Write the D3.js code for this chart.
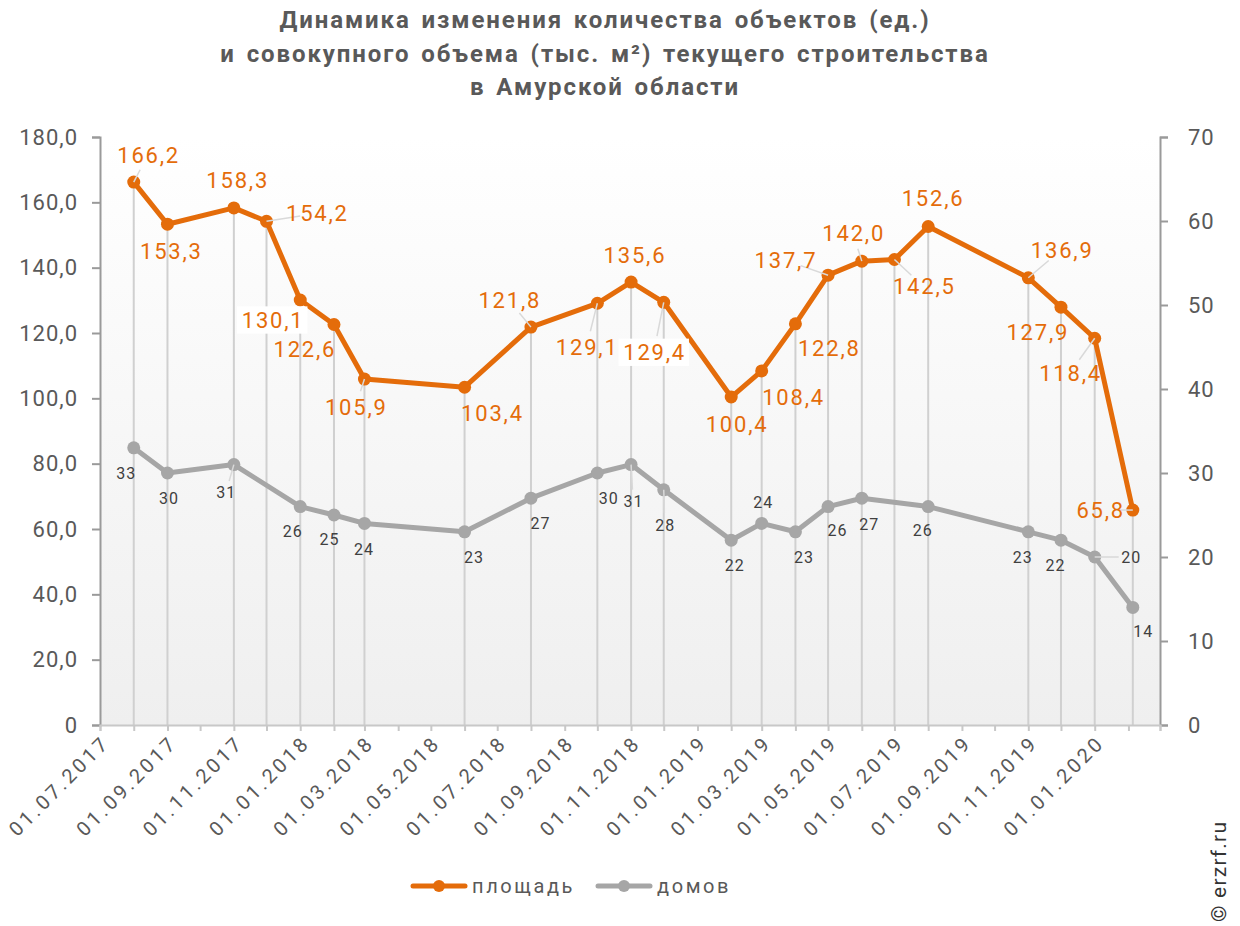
<!DOCTYPE html>
<html>
<head>
<meta charset="utf-8">
<script src="https://cdnjs.cloudflare.com/ajax/libs/d3/7.8.5/d3.min.js"></script>
<style>
  body { margin: 0; background: #fff; }
  svg { font-family: Roboto, "Noto Sans", sans-serif; }
</style>
</head>
<body>
<script>
// Chart data
const titleLines = [
    "Динамика изменения количества объектов (ед.)",
    "и совокупного объема (тыс. м²) текущего строительства",
    "в Амурской области"
];
const areaDates = ["01.08.2017", "01.09.2017", "01.11.2017", "01.12.2017", "01.01.2018", "01.02.2018",
    "01.03.2018", "01.06.2018", "01.08.2018", "01.10.2018", "01.11.2018", "01.12.2018", "01.02.2019",
    "01.03.2019", "01.04.2019", "01.05.2019", "01.06.2019", "01.07.2019", "01.08.2019", "01.11.2019",
    "01.12.2019", "01.01.2020", "05.02.2020"];
const areaValues = [166.2, 153.3, 158.3, 154.2, 130.1, 122.6, 105.9, 103.4, 121.8, 129.1, 135.6, 129.4,
    100.4, 108.4, 122.8, 137.7, 142.0, 142.5, 152.6, 136.9, 127.9, 118.4, 65.8];
const houseDates = ["01.08.2017", "01.09.2017", "01.11.2017", "01.01.2018", "01.02.2018", "01.03.2018",
    "01.06.2018", "01.08.2018", "01.10.2018", "01.11.2018", "01.12.2018", "01.02.2019", "01.03.2019",
    "01.04.2019", "01.05.2019", "01.06.2019", "01.08.2019", "01.11.2019", "01.12.2019", "01.01.2020",
    "05.02.2020"];
const houseValues = [33, 30, 31, 26, 25, 24, 23, 27, 30, 31, 28, 22, 24, 23, 26, 27, 26, 23, 22, 20, 14];
const leftTicks = [0, 20, 40, 60, 80, 100, 120, 140, 160, 180];
const rightTicks = [0, 10, 20, 30, 40, 50, 60, 70];
const xTickLabels = ["01.07.2017", "01.09.2017", "01.11.2017", "01.01.2018", "01.03.2018", "01.05.2018",
    "01.07.2018", "01.09.2018", "01.11.2018", "01.01.2019", "01.03.2019", "01.05.2019", "01.07.2019",
    "01.09.2019", "01.11.2019", "01.01.2020"];
const seriesNames = ["площадь", "домов"];

// label placement (dx, dy from point), leader line flag, white box flag
const areaLabelPos = [[14, -27, 1], [3, 27], [3, -28], [50, -8, 1], [-28, 20, 0, 1], [-30, 25], [-9, 28, 1],
    [27, 26], [-22, -27, 1], [-11, 44, 1], [3, -27], [-10, 50, 1, 1], [5, 27], [31, 26], [33, 24],
    [-43, -15, 1], [-9, -28, 1], [29, 27, 1], [4, -28], [33, -28, 1], [-24, 25], [-25, 35, 1], [-33, 0, 1]];
const houseLabelPos = [[-8, 25], [1, 25], [-8, 28, 1], [-8, 25], [-5, 24], [-1, 26], [9, 25], [9, 25],
    [11, 25], [2, 37, 1], [1, 35, 1], [3, 25], [1, -21], [8, 25], [9, 24], [7, 26], [-6, 24], [-6, 25],
    [-6, 25], [36, 0, 1], [10, 24]];

(function() {
    const W = 1240, H = 926;
    const orange = "#e46c0a", grey = "#a6a6a6", textCol = "#595959";
    const left = 100, right = 1160, top = 137, bottom = 725;
    const parse = d3.timeParse("%d.%m.%Y");

    const svg = d3.select("body").append("svg")
        .attr("width", W).attr("height", H);

    const defs = svg.append("defs");
    const grad = defs.append("linearGradient").attr("id", "bg")
        .attr("x1", 0).attr("y1", 0).attr("x2", 0).attr("y2", 1);
    grad.append("stop").attr("offset", "0%").attr("stop-color", "#ffffff");
    grad.append("stop").attr("offset", "100%").attr("stop-color", "#efefef");

    const x = d3.scaleTime()
        .domain([parse("01.07.2017"), parse("01.03.2020")])
        .range([left, right]);
    const yL = d3.scaleLinear().domain([0, 180]).range([bottom, top]);
    const yR = d3.scaleLinear().domain([0, 70]).range([bottom, top]);

    // plot background
    svg.append("rect")
        .attr("x", left).attr("y", top)
        .attr("width", right - left).attr("height", bottom - top)
        .attr("fill", "url(#bg)");

    // title
    svg.append("g").selectAll("text").data(titleLines).join("text")
        .attr("x", 605).attr("y", (d, i) => 28 + i * 33.5)
        .attr("text-anchor", "middle")
        .attr("font-size", 24).attr("font-weight", "bold")
        .attr("letter-spacing", 1.9).attr("word-spacing", 3)
        .attr("fill", textCol)
        .text(d => d);

    const area = areaDates.map((d, i) => ({ date: parse(d), value: areaValues[i] }));
    const houses = houseDates.map((d, i) => ({ date: parse(d), value: houseValues[i] }));

    // drop lines
    svg.append("g").selectAll("line").data(area).join("line")
        .attr("x1", d => x(d.date)).attr("x2", d => x(d.date))
        .attr("y1", d => yL(d.value)).attr("y2", bottom)
        .attr("stroke", "#d0d0d0").attr("stroke-width", 2);

    // left axis
    const axL = svg.append("g")
        .attr("transform", `translate(${left},0)`)
        .call(d3.axisLeft(yL).tickValues(leftTicks).tickSize(8).tickPadding(14)
            .tickFormat(d => d === 0 ? "0" : d3.format(".1f")(d).replace(".", ",")));
    // right axis
    const axR = svg.append("g")
        .attr("transform", `translate(${right},0)`)
        .call(d3.axisRight(yR).tickValues(rightTicks).tickSize(8).tickPadding(20));
    [axL, axR].forEach(ax => {
        ax.select(".domain").attr("stroke", "#9a9a9a").attr("stroke-width", 2);
        ax.selectAll(".tick line").attr("stroke", "#9a9a9a").attr("stroke-width", 2);
        ax.selectAll(".tick text").attr("font-size", 22).attr("fill", textCol)
            .attr("letter-spacing", 1)
            .attr("font-family", "Roboto, sans-serif");
    });

    // x axis
    const months = d3.timeMonth.range(parse("01.07.2017"), parse("02.03.2020"));
    const axX = svg.append("g")
        .attr("transform", `translate(0,${bottom})`)
        .call(d3.axisBottom(x).tickValues(months).tickSize(6).tickFormat(""));
    axX.select(".domain").attr("stroke", "#c8c8c8").attr("stroke-width", 2);
    axX.selectAll(".tick line").attr("stroke", "#c8c8c8").attr("stroke-width", 2);

    svg.append("g").selectAll("text").data(xTickLabels).join("text")
        .attr("transform", d => `translate(${x(parse(d)) + 6},${bottom + 14}) rotate(-45)`)
        .attr("text-anchor", "end")
        .attr("dy", "0.35em")
        .attr("font-size", 20).attr("letter-spacing", 3.2).attr("fill", textCol)
        .text(d => d);

    // lines
    const lineL = d3.line().x(d => x(d.date)).y(d => yL(d.value));
    const lineR = d3.line().x(d => x(d.date)).y(d => yR(d.value));

    svg.append("path").datum(houses)
        .attr("fill", "none").attr("stroke", grey).attr("stroke-width", 5)
        .attr("stroke-linejoin", "round").attr("d", lineR);
    svg.append("g").selectAll("circle").data(houses).join("circle")
        .attr("cx", d => x(d.date)).attr("cy", d => yR(d.value)).attr("r", 6.5)
        .attr("fill", grey);

    svg.append("path").datum(area)
        .attr("fill", "none").attr("stroke", orange).attr("stroke-width", 5)
        .attr("stroke-linejoin", "round").attr("d", lineL);
    svg.append("g").selectAll("circle").data(area).join("circle")
        .attr("cx", d => x(d.date)).attr("cy", d => yL(d.value)).attr("r", 6.5)
        .attr("fill", orange);

    // data labels
    function drawLabels(data, pos, yScale, fmt, size, spacing, color) {
        const g = svg.append("g");
        data.forEach((d, i) => {
            const px = x(d.date), py = yScale(d.value);
            const [dx, dy, leader, boxed] = pos[i];
            const lx = px + dx, ly = py + dy;
            if (leader) {
                const t = Math.hypot(dx, dy);
                const k = (t - size * 0.75) / t;
                g.append("line")
                    .attr("x1", px).attr("y1", py)
                    .attr("x2", px + dx * k).attr("y2", py + dy * k)
                    .attr("stroke", "#d9d9d9").attr("stroke-width", 1.5);
            }
            const label = fmt(d.value);
            if (boxed) {
                g.append("rect")
                    .attr("x", lx - size * 1.6).attr("y", ly - size * 0.62)
                    .attr("width", size * 3.2).attr("height", size * 1.24)
                    .attr("fill", "#fff");
            }
            g.append("text")
                .attr("x", lx + spacing / 2).attr("y", ly)
                .attr("dy", "0.36em")
                .attr("text-anchor", "middle")
                .attr("font-size", size).attr("letter-spacing", spacing).attr("fill", color)
                .text(label);
        });
    }
    drawLabels(houses, houseLabelPos, yR, v => String(v), 16, 1, "#404040");
    drawLabels(area, areaLabelPos, yL, v => d3.format(".1f")(v).replace(".", ","), 22, 1.8, orange);

    // legend
    const legend = svg.append("g").attr("transform", "translate(0,886)");
    const items = [[seriesNames[0], orange, 413], [seriesNames[1], grey, 598]];
    items.forEach(([name, color, lx]) => {
        legend.append("line").attr("x1", lx).attr("x2", lx + 52)
            .attr("stroke", color).attr("stroke-width", 5).attr("stroke-linecap", "round");
        legend.append("circle").attr("cx", lx + 26).attr("r", 6).attr("fill", color);
        legend.append("text").attr("x", lx + 59).attr("dy", "0.35em")
            .attr("font-size", 20).attr("letter-spacing", 2.6).attr("fill", textCol).text(name);
    });

    // watermark
    svg.append("text")
        .attr("transform", "translate(1226,922) rotate(-90)")
        .attr("font-size", 21).attr("letter-spacing", 1.2).attr("fill", "#333")
        .text("© erzrf.ru");
})();
</script>
</body>
</html>
